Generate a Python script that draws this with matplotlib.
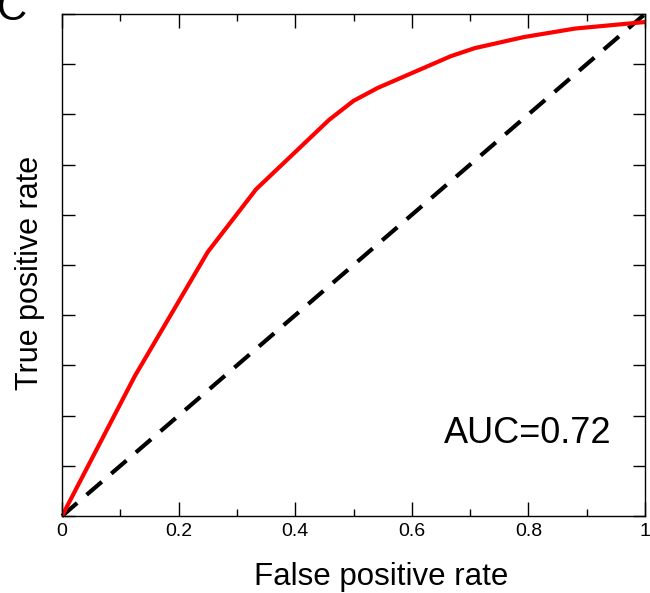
import matplotlib
matplotlib.use("Agg")
import matplotlib.pyplot as plt
from matplotlib.ticker import MultipleLocator, FuncFormatter

plt.rcParams['font.family'] = ['Liberation Sans', 'DejaVu Sans']

# ROC curve
fpr = [0, 0.125, 0.25, 0.333, 0.458, 0.5, 0.542, 0.667, 0.708, 0.792, 0.88, 1.0]
tpr = [0, 0.279, 0.526, 0.651, 0.789, 0.827, 0.853, 0.916, 0.932, 0.954, 0.971, 0.984]
chance = [0, 1]
auc_label = "AUC=0.72"

fig = plt.figure(figsize=(6.5, 5.93), dpi=100)
ax = fig.add_axes([0.0954, 0.1298, 0.8969, 0.8466])

ax.plot(chance, chance, color="black", lw=3, linestyle=(0, (4.8, 3)), clip_on=False)
ax.plot(fpr, tpr, color="#ff0000", lw=3, solid_capstyle="butt")

ax.set_xlim(0, 1)
ax.set_ylim(0, 1)

ax.xaxis.set_major_locator(MultipleLocator(0.2))
ax.xaxis.set_minor_locator(MultipleLocator(0.1))
ax.yaxis.set_major_locator(MultipleLocator(0.1))
ax.xaxis.set_major_formatter(FuncFormatter(lambda v, p: "%g" % round(v, 2)))
ax.set_yticklabels([])

ax.tick_params(which="both", direction="in", top=True, right=True, width=1)
ax.tick_params(which="major", length=10, pad=5, labelsize=14)
ax.tick_params(which="minor", length=5)
ax.tick_params(axis="y", which="major", length=9)

for s in ax.spines.values():
    s.set_linewidth(1.0)

ax.set_xlabel("False positive rate", fontsize=22.5)
ax.set_ylabel("True positive rate", fontsize=22)
ax.xaxis.set_label_coords(0.548, -0.1375)
ax.xaxis.label.set_va("baseline")
ax.yaxis.set_label_coords(-0.042, 0.484)
ax.yaxis.label.set_va("baseline")

ax.text(0.943, 0.145, auc_label, transform=ax.transAxes, ha="right",
        va="baseline", fontsize=26)

# panel letter, partly cut off at the top-left corner
fig.text(-0.005, 0.985, "C", fontsize=30, ha="left", va="center")

fig.savefig("out.png", dpi=100)
